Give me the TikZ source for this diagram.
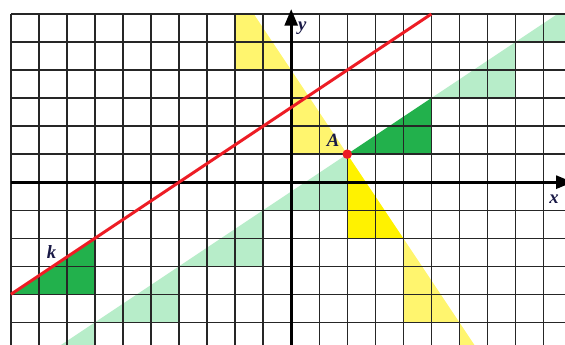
\documentclass[tikz,border=0pt]{standalone}
\usepackage{fontspec}
\setmainfont{Liberation Serif}
\usetikzlibrary{arrows.meta}
\definecolor{lyel}{RGB}{255,245,110}
\definecolor{byel}{RGB}{255,242,0}
\definecolor{lgrn}{RGB}{183,237,201}
\definecolor{dgrn}{RGB}{34,177,76}
\definecolor{kred}{RGB}{237,28,36}
\definecolor{lab}{RGB}{25,25,70}
\tikzset{
  gridline/.style={draw=black!85,line width=1.4pt},
  axisline/.style={draw=black,line width=3.3pt,-{Triangle[length=17pt,width=13pt]}},
  redline/.style={draw=kred,line width=3pt},
  lbl/.style={text=lab,font=\fontsize{19}{19}\selectfont\bfseries\itshape,inner sep=0pt},
}
\begin{document}
\begin{tikzpicture}[x=1cm,y=1cm]
\useasboundingbox (-10.39,-5.79) rectangle (9.77,6.5);
\begin{scope}
\clip (-10,-6) rectangle (10,6);
% light green triangles along the parallel line through A
\fill[lgrn] (8,5) -- (11,5) -- (11,7) -- cycle;
\fill[lgrn] (5,3) -- (8,3) -- (8,5) -- cycle;
\fill[lgrn] (-1,-1) -- (2,-1) -- (2,1) -- cycle;
\fill[lgrn] (-4,-3) -- (-1,-3) -- (-1,-1) -- cycle;
\fill[lgrn] (-7,-5) -- (-4,-5) -- (-4,-3) -- cycle;
\fill[lgrn] (-10,-7) -- (-7,-7) -- (-7,-5) -- cycle;
% dark green triangles
\fill[dgrn] (2,1) -- (5,1) -- (5,3) -- cycle;
\fill[dgrn] (-10,-4) -- (-7,-4) -- (-7,-2) -- cycle;
% yellow triangles along the perpendicular through A
\fill[lyel] (-2,7) -- (-2,4) -- (0,4) -- cycle;
\fill[lyel] (0,4) -- (0,1) -- (2,1) -- cycle;
\fill[byel] (2,1) -- (2,-2) -- (4,-2) -- cycle;
\fill[lyel] (4,-2) -- (4,-5) -- (6,-5) -- cycle;
\fill[lyel] (6,-5) -- (6,-8) -- (8,-8) -- cycle;
\end{scope}
% grid
\draw[gridline] (-10,-6) grid (10,6);
% axes
\coordinate (xs) at (-10,0);
\coordinate (xe) at (10.05,0);
\coordinate (ys) at (0,-6);
\coordinate (ye) at (0,6.18);
\draw[axisline] (xs) -- (xe);
\draw[axisline] (ys) -- (ye);
% line k
\coordinate (k1) at (-10,-4);
\coordinate (k2) at (5,6);
\draw[redline] (k1) -- (k2);
% point A
\coordinate (A) at (2,1);
\fill[kred] (A) circle (0.17);
% labels
\node[lbl] (ly) at (0.4,5.5) {y};
\node[lbl] (lx) at (9.38,-0.6) {x};
\node[lbl] (lA) at (1.5,1.5) {A};
\node[lbl] (lk) at (-8.55,-2.5) {k};
\end{tikzpicture}
\end{document}
